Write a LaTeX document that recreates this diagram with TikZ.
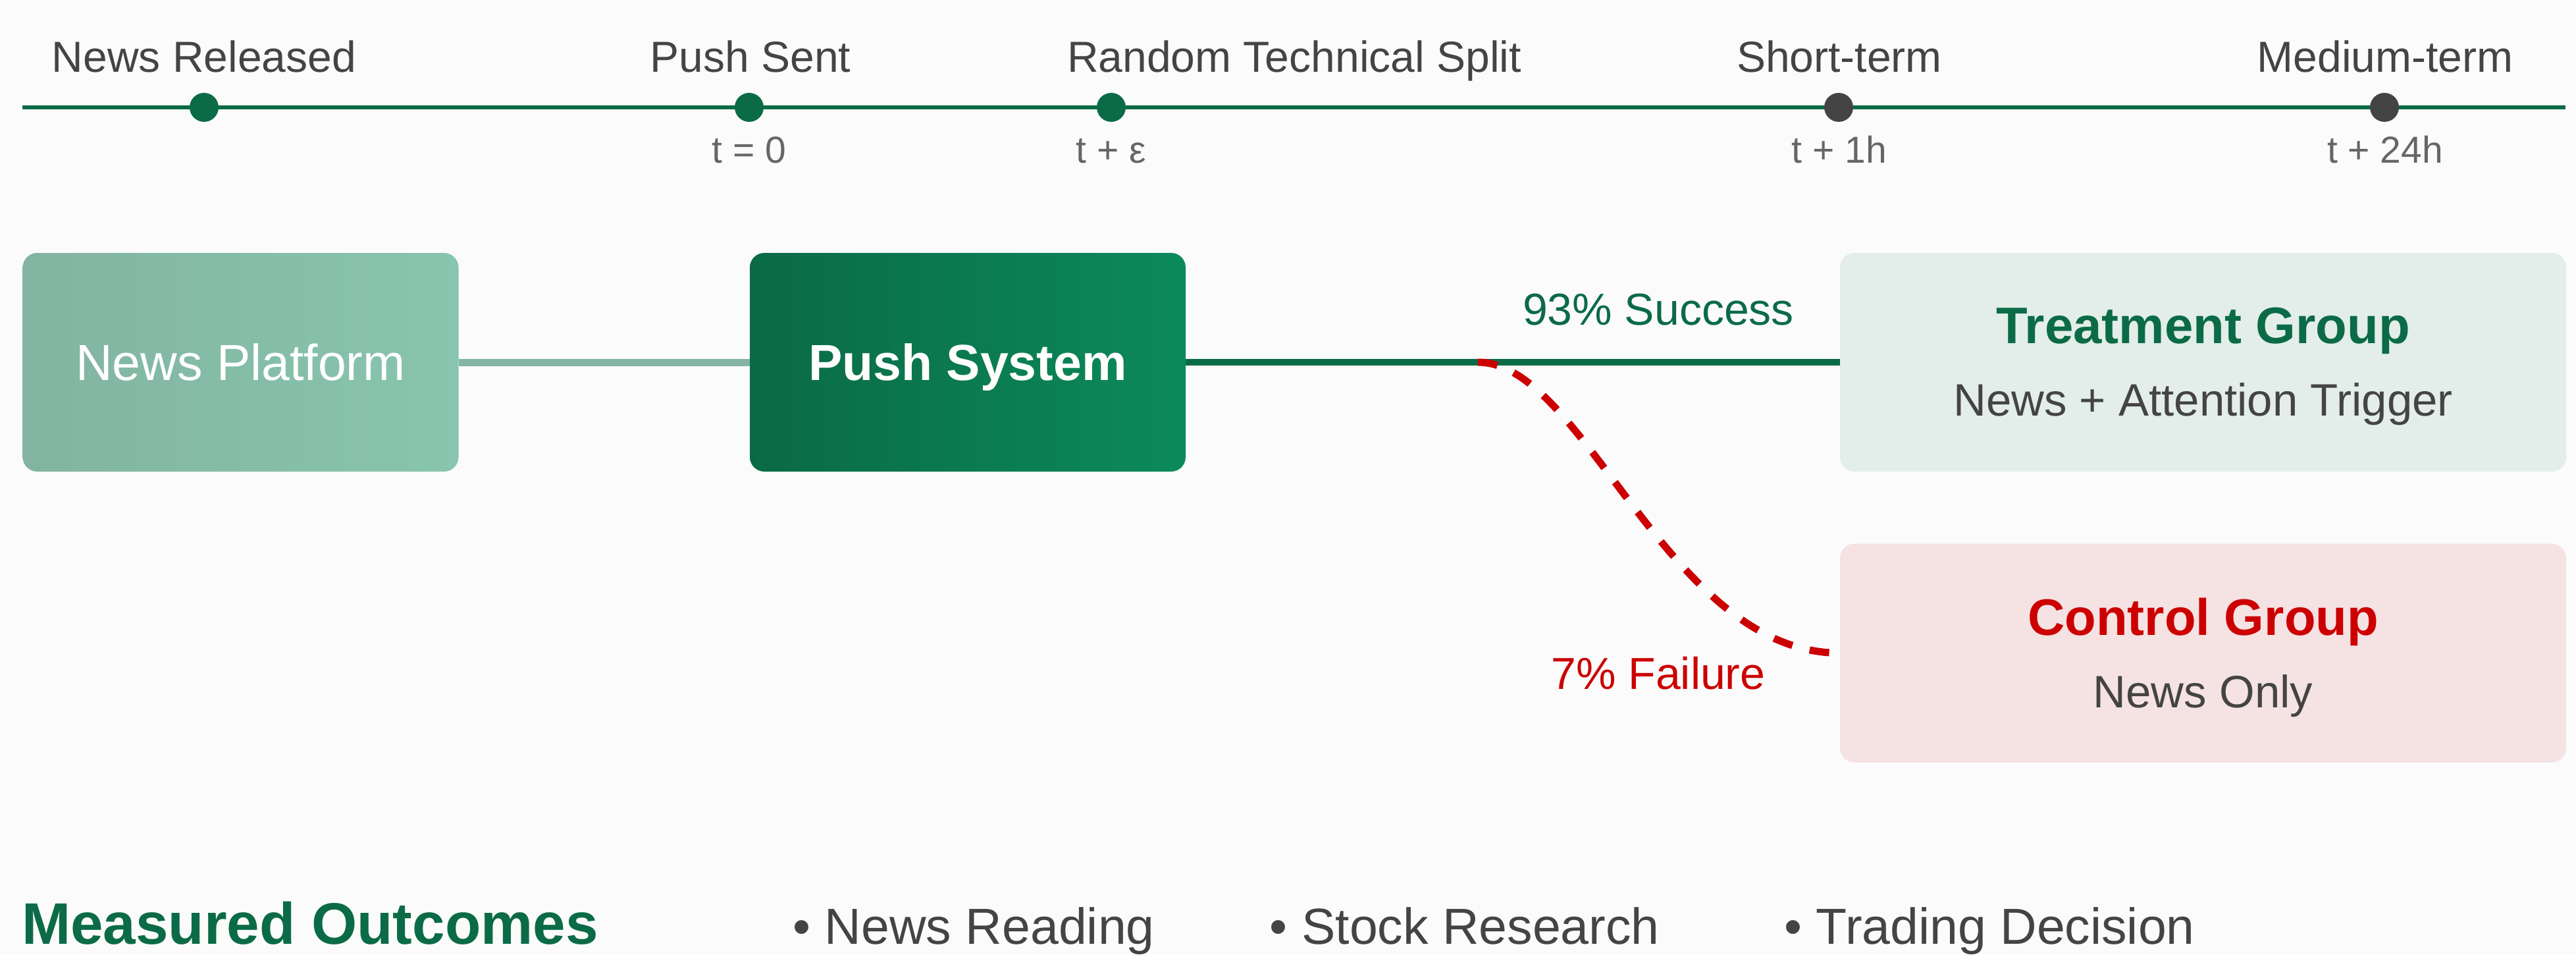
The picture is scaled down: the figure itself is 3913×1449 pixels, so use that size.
\documentclass[tikz,border=0pt]{standalone}
\usepackage{fontspec}
\setmainfont{Liberation Sans}
\usetikzlibrary{calc}

\definecolor{brand}{HTML}{0B6B47}
\definecolor{brandmid}{HTML}{0C8A5B}
\definecolor{branddeep}{HTML}{0A6A46}
\definecolor{brandlight}{HTML}{84B5A2}
\definecolor{paleleft}{HTML}{82B4A1}
\definecolor{paleright}{HTML}{88C5AE}
\definecolor{alert}{HTML}{CC0000}
\definecolor{ink}{HTML}{444444}
\definecolor{muted}{HTML}{666666}
\definecolor{treatfill}{HTML}{E3EDEA}
\definecolor{ctrlfill}{HTML}{F5E2E3}
\definecolor{page}{HTML}{FBFBFC}

\tikzset{
  tline/.style={draw=brand, line width=6pt},
  dot/.style={circle, minimum size=44pt, inner sep=0pt, draw=none},
  toplab/.style={font=\fontsize{66}{66}\selectfont, text=ink, anchor=base, inner sep=0pt},
  tlab/.style={font=\fontsize{57}{57}\selectfont, text=muted, anchor=base, inner sep=0pt},
  stagebox/.style={rounded corners=22pt, minimum width=662pt, minimum height=332pt,
    inner sep=0pt, text=white, text height=55pt, text depth=0pt},
  groupbox/.style={rounded corners=22pt, minimum width=1103pt, minimum height=332pt, inner sep=0pt},
  grouptitle/.style={font=\bfseries\fontsize{78}{78}\selectfont, anchor=base, inner sep=0pt},
  groupsub/.style={font=\fontsize{69}{69}\selectfont, text=ink, anchor=base, inner sep=0pt},
  pathlab/.style={font=\fontsize{68}{68}\selectfont, anchor=base, inner sep=0pt},
  outcome/.style={font=\fontsize{77}{77}\selectfont, text=ink, anchor=base east, inner sep=0pt},
  feed/.style={draw=brandlight, line width=11pt},
  hit/.style={draw=brand, line width=10pt},
  miss/.style={draw=alert, line width=11pt, dash pattern=on 30pt off 27pt},
}

\begin{document}
\begin{tikzpicture}[x=1pt, y=-1pt]
  % page background
  \fill[page] (0,0) rectangle (3913,1449);
  \useasboundingbox (0,0) rectangle (3913,1449);

  % ---- timeline ----
  \coordinate (tl0) at (34,163);
  \coordinate (tl1) at (3897,163);
  \draw[tline] (tl0) -- (tl1);

  \node[dot, fill=brand] (d1) at (310,163) {};
  \node[dot, fill=brand] (d2) at (1138,163) {};
  \node[dot, fill=brand] (d3) at (1688,163) {};
  \node[dot, fill=ink]   (d4) at (2793,163) {};
  \node[dot, fill=ink]   (d5) at (3622,163) {};

  \node[toplab] (l1) at (310,109)  {News Released};
  \node[toplab] (l2) at (1140,109) {Push Sent};
  \node[toplab] (l3) at (1966,109) {Random Technical Split};
  \node[toplab] (l4) at (2794,109) {Short-term};
  \node[toplab] (l5) at (3623,109) {Medium-term};

  \node[tlab] (t2) at (1138,247) {t = 0};
  \node[tlab] (t3) at (1688,247) {t + ε};
  \node[tlab] (t4) at (2794,247) {t + 1h};
  \node[tlab] (t5) at (3623,247) {t + 24h};

  % ---- flow stages ----
  \node[stagebox, left color=paleleft, right color=paleright,
        font=\fontsize{77}{77}\selectfont] (np) at (365.5,550) {News Platform};
  \node[stagebox, left color=branddeep, right color=brandmid,
        font=\bfseries\fontsize{77}{77}\selectfont] (ps) at (1470,550) {Push System};

  \node[groupbox, fill=treatfill] (tg) at (3346.5,550) {};
  \node[groupbox, fill=ctrlfill]  (cg) at (3346.5,991.5) {};

  \node[grouptitle, text=brand] (tgt) at ($(tg.north)+(0,138)$) {Treatment Group};
  \node[groupsub] (tgs) at ($(tg.north)+(0,248)$) {News + Attention Trigger};
  \node[grouptitle, text=alert] (cgt) at ($(cg.north)+(0,139)$) {Control Group};
  \node[groupsub] (cgs) at ($(cg.north)+(0,249)$) {News Only};

  % ---- connectors ----
  \draw[feed] (np.east) -- (ps.west);
  \draw[hit] (ps.east) -- (tg.west);
  \coordinate (split) at (2245,550);
  \draw[miss] (split) .. controls ($(split)+(162,0)$) and ($(cg.west)+(-262,0)$) .. (cg.west);

  \node[pathlab, text=brand] (ok) at (2519,493) {93\% Success};
  \node[pathlab, text=alert] (ko) at (2519,1046) {7\% Failure};

  % ---- outcomes ----
  \node[font=\bfseries\fontsize{89}{89}\selectfont, text=brand, anchor=base west, inner sep=0pt]
    (mo) at (33,1433) {Measured Outcomes};
  \node[outcome] (o1) at (1754,1433) {• News Reading};
  \node[outcome] (o2) at (2521,1433) {• Stock Research};
  \node[outcome] (o3) at (3334,1433) {• Trading Decision};
\end{tikzpicture}
\end{document}
